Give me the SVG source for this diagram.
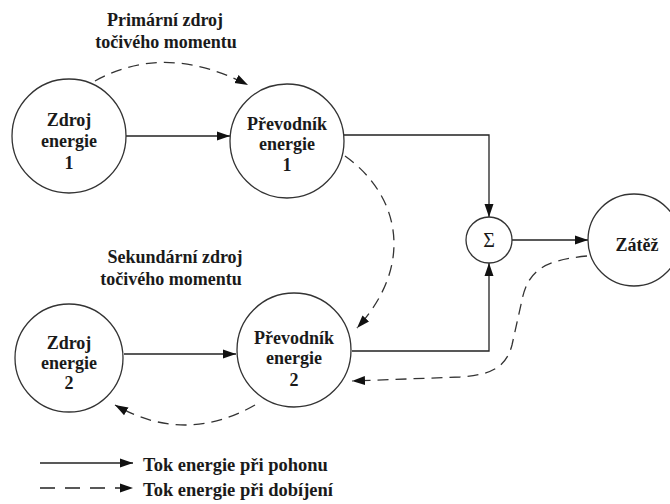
<svg xmlns="http://www.w3.org/2000/svg" width="670" height="504" viewBox="0 0 670 504">
<defs>
<style>
.n{fill:#fff;stroke:#333;stroke-width:1.3}
.t{font-family:'Liberation Serif','DejaVu Serif','Times New Roman',serif;font-weight:bold;font-size:18px;fill:#1a1a1a;text-anchor:middle}
.lg{font-family:'Liberation Serif','DejaVu Serif','Times New Roman',serif;font-weight:bold;font-size:18.5px;fill:#1a1a1a}
.s{fill:none;stroke:#222;stroke-width:1.3}
.d{fill:none;stroke:#333;stroke-width:1.3;stroke-dasharray:11,7}
</style>
<marker id="ah" markerUnits="userSpaceOnUse" markerWidth="14" markerHeight="10" refX="13" refY="5" orient="auto">
<path d="M0,0.5 L13,5 L0,9.5 Z" fill="#111"/>
</marker>
</defs>
<rect width="670" height="504" fill="#fff"/>

<text class="t" x="165" y="26">Primární zdroj</text>
<text class="t" x="166" y="48">točivého momentu</text>
<text class="t" x="175" y="263">Sekundární zdroj</text>
<text class="t" x="171" y="285">točivého momentu</text>

<g id="connectors">
<path class="s" d="M126,136 L230,136" marker-end="url(#ah)"/>
<path class="s" d="M124,354 L236,354" marker-end="url(#ah)"/>
<path class="s" d="M344,135 L489,135 L489,217" marker-end="url(#ah)"/>
<path class="s" d="M352,351 L489,351 L489,263" marker-end="url(#ah)"/>
<path class="s" d="M512,240 L588,240" marker-end="url(#ah)"/>
<path class="d" d="M95,81 Q165,42 248,85" marker-end="url(#ah)"/>
<path class="d" d="M345,156 C400,195 415,265 357,328" marker-end="url(#ah)"/>
<path class="d" d="M587,256 C545,260 528,270 522,300 L512,345 C506,368 490,375 460,377 L352,381" marker-end="url(#ah)"/>
<path class="d" d="M255,405 Q185,445 115,405" marker-end="url(#ah)"/>
</g>

<g id="zdroj1">
<circle class="n" cx="69" cy="136" r="57"/>
<text class="t" x="69" y="126">Zdroj</text>
<text class="t" x="69" y="147">energie</text>
<text class="t" x="69" y="169">1</text>
</g>
<g id="prevodnik1">
<circle class="n" cx="287" cy="141" r="57"/>
<text class="t" x="287" y="130">Převodník</text>
<text class="t" x="287" y="150">energie</text>
<text class="t" x="287" y="171">1</text>
</g>
<g id="zdroj2">
<circle class="n" cx="69" cy="358" r="54"/>
<text class="t" x="69" y="349">Zdroj</text>
<text class="t" x="69" y="369">energie</text>
<text class="t" x="69" y="389">2</text>
</g>
<g id="prevodnik2">
<circle class="n" cx="294" cy="350" r="57"/>
<text class="t" x="294" y="344">Převodník</text>
<text class="t" x="294" y="364">energie</text>
<text class="t" x="294" y="386">2</text>
</g>
<g id="sigma">
<circle class="n" cx="489" cy="240" r="23"/>
<text class="t" x="489" y="247" style="font-weight:normal;font-size:20px">Σ</text>
</g>
<g id="zatez">
<circle class="n" cx="634" cy="240" r="46"/>
<text class="t" x="637" y="251">Zátěž</text>
</g>

<g id="legend">
<path class="s" d="M40,463 L133,463" marker-end="url(#ah)"/>
<path class="s" d="M40,488 L133,488" style="stroke-dasharray:15,10" marker-end="url(#ah)"/>
<text class="lg" x="143" y="471">Tok energie při pohonu</text>
<text class="lg" x="143" y="496">Tok energie při dobíjení</text>
</g>
</svg>
